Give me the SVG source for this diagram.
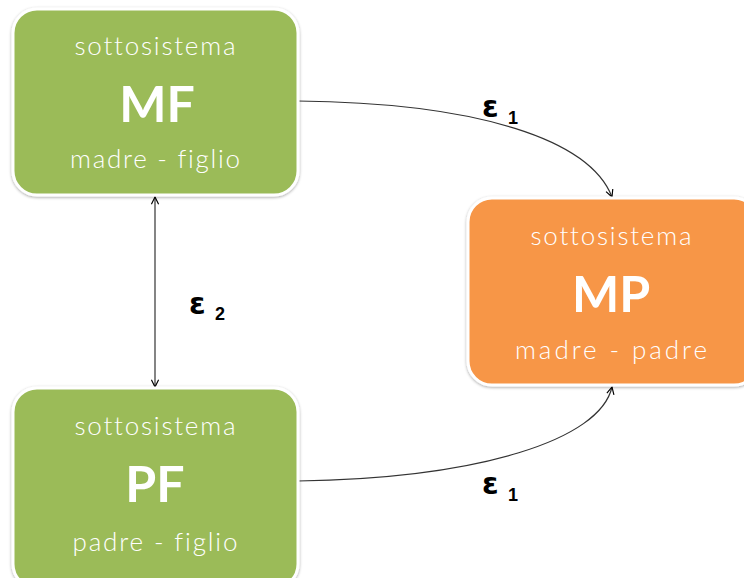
<svg xmlns="http://www.w3.org/2000/svg" width="744" height="578" viewBox="0 0 744 578">
<defs>
<filter id="sh" x="-10%" y="-10%" width="120%" height="120%">
<feDropShadow dx="0" dy="1" stdDeviation="1.5" flood-color="#000" flood-opacity="0.35"/>
</filter>
<marker id="ah" viewBox="0 0 10 10" refX="9" refY="5" markerWidth="9" markerHeight="9" orient="auto-start-reverse" markerUnits="userSpaceOnUse">
<path d="M1,1 L9,5 L1,9" fill="none" stroke="#000" stroke-width="1.3"/>
</marker>
</defs>
<style>
.box{stroke:#fff;stroke-width:3;filter:url(#sh)}
.g{fill:#9BBB59}
.o{fill:#F79646}
.t{font-family:Lato,"Open Sans","Liberation Sans",sans-serif;font-weight:300;fill:#fff;text-anchor:middle;font-size:26px;font-variant-ligatures:none;font-feature-settings:"liga" 0,"dlig" 0}
.b{font-family:Lato,"Open Sans","Liberation Sans",sans-serif;font-weight:700;fill:#fff;text-anchor:middle;font-size:50px}
.e{font-family:"DejaVu Sans","Liberation Sans",sans-serif;font-weight:700;fill:#000;font-size:30px}
.s{font-family:"Liberation Sans",sans-serif;font-weight:700;fill:#000;font-size:18px}
.c{fill:none;stroke:#333;stroke-width:1.2}
</style>
<g id="connectors">
<path class="c" d="M298,101 C480,103 590,140 612,197" marker-end="url(#ah)"/>
<path class="c" d="M298,481 C480,478 600,440 612,387" marker-end="url(#ah)"/>
<line class="c" x1="155" y1="197" x2="155" y2="387" marker-start="url(#ah)" marker-end="url(#ah)"/>
<text class="e" x="482" y="117">ε</text><text class="s" x="508" y="124">1</text>
<text class="e" x="189" y="314">ε</text><text class="s" x="215" y="320">2</text>
<text class="e" x="482" y="494">ε</text><text class="s" x="508" y="501">1</text>
</g>
<g id="MF">
<rect class="box g" x="13" y="9" width="285" height="186" rx="24"/>
<text class="t" x="155" y="55" textLength="161" lengthAdjust="spacing">sottosistema</text>
<text class="b" x="157" y="122">MF</text>
<text class="t" x="155" y="168" textLength="170" lengthAdjust="spacing">madre - figlio</text>
</g>
<g id="MP">
<rect class="box o" x="468" y="198" width="290" height="187" rx="24"/>
<text class="t" x="611" y="245" textLength="161" lengthAdjust="spacing">sottosistema</text>
<text class="b" x="611" y="312">MP</text>
<text class="t" x="611" y="359" textLength="192" lengthAdjust="spacing">madre - padre</text>
</g>
<g id="PF">
<rect class="box g" x="13" y="388" width="285" height="200" rx="24"/>
<text class="t" x="155" y="435" textLength="161" lengthAdjust="spacing">sottosistema</text>
<text class="b" x="155" y="502">PF</text>
<text class="t" x="155" y="551" textLength="165" lengthAdjust="spacing">padre - figlio</text>
</g>
</svg>
